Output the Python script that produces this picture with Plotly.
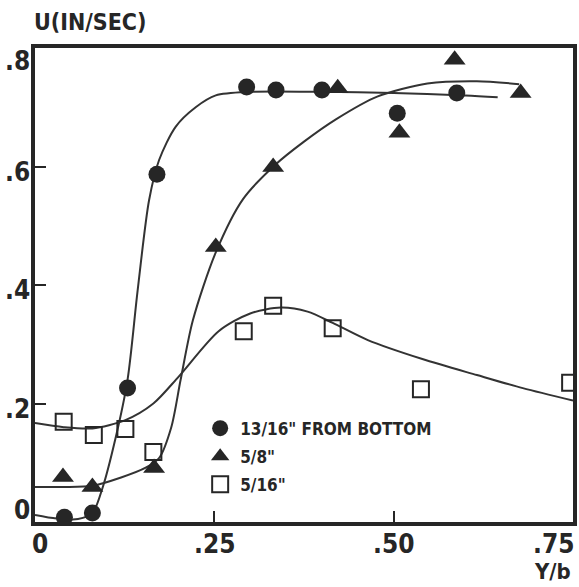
import plotly.graph_objects as go

# Measured velocity profiles, U (in/sec) against Y/b, at three heights
y_b_1316 = [0.041, 0.080, 0.129, 0.170, 0.295, 0.336, 0.400, 0.505, 0.588]
u_1316 = [0.008, 0.015, 0.226, 0.587, 0.734, 0.729, 0.729, 0.690, 0.724]

y_b_58 = [0.039, 0.080, 0.166, 0.252, 0.332, 0.422, 0.508, 0.585, 0.677]
u_58 = [0.076, 0.059, 0.091, 0.464, 0.599, 0.732, 0.657, 0.780, 0.724]

y_b_516 = [0.040, 0.082, 0.126, 0.165, 0.291, 0.332, 0.415, 0.538, 0.746]
u_516 = [0.169, 0.147, 0.157, 0.118, 0.322, 0.365, 0.327, 0.224, 0.235]

# Hand-faired curves through each set of measurements
fit_x_1316 = [0.0, 0.03, 0.06, 0.08, 0.094, 0.112, 0.129, 0.143, 0.159, 0.173,
              0.196, 0.224, 0.252, 0.30, 0.40, 0.50, 0.60, 0.645]
fit_u_1316 = [0.012, 0.006, 0.005, 0.015, 0.057, 0.14, 0.24, 0.39, 0.543, 0.611,
              0.667, 0.70, 0.72, 0.726, 0.726, 0.724, 0.72, 0.717]

fit_x_58 = [0.0, 0.04, 0.08, 0.12, 0.155, 0.173, 0.19, 0.203, 0.22, 0.252, 0.29,
            0.335, 0.375, 0.42, 0.477, 0.547, 0.616, 0.675]
fit_u_58 = [0.059, 0.059, 0.061, 0.075, 0.092, 0.108, 0.16, 0.24, 0.34, 0.455, 0.545,
            0.603, 0.642, 0.68, 0.718, 0.740, 0.744, 0.739]

fit_x_516 = [0.0, 0.04, 0.08, 0.126, 0.165, 0.20, 0.256, 0.30, 0.343, 0.38, 0.415,
             0.464, 0.54, 0.616, 0.68, 0.75]
fit_u_516 = [0.167, 0.160, 0.158, 0.172, 0.200, 0.245, 0.322, 0.352, 0.362, 0.355,
             0.336, 0.307, 0.275, 0.248, 0.226, 0.205]

x_ticks = [0, 0.25, 0.50, 0.75]
x_tick_text = ["0", ".25", ".50", ".75"]
y_ticks = [0, 0.2, 0.4, 0.6, 0.8]
y_tick_text = ["0", ".2", ".4", ".6", ".8"]

INK = "#262626"
FONT = "Liberation Sans Narrow, DejaVu Sans Condensed, Arial Narrow, sans-serif"
TICK_FONT = dict(family=FONT, size=26, color=INK, weight="bold")

fig = go.Figure()

for fx, fu in [(fit_x_1316, fit_u_1316), (fit_x_58, fit_u_58), (fit_x_516, fit_u_516)]:
    fig.add_trace(go.Scatter(
        x=fx, y=fu, mode="lines", line=dict(color="#333333", width=2, shape="spline", smoothing=0.8),
        showlegend=False, hoverinfo="skip",
    ))

fig.add_trace(go.Scatter(
    x=y_b_1316, y=u_1316, mode="markers", name='13/16" FROM BOTTOM', legendgroup="a",
    marker=dict(symbol="circle", size=17, color=INK, line=dict(width=0)), cliponaxis=False,
))
fig.add_trace(go.Scatter(
    x=y_b_58, y=u_58, mode="markers", name='5/8"', legendgroup="b",
    marker=dict(symbol="triangle-up", size=19, color=INK, line=dict(width=0)), cliponaxis=False,
))
fig.add_trace(go.Scatter(
    x=y_b_516, y=u_516, mode="markers", name='5/16"', legendgroup="c",
    marker=dict(symbol="square-open", size=16, color=INK, line=dict(width=2)),
))

axis_common = dict(
    showgrid=False, zeroline=False, showline=True, mirror=True, showticklabels=False,
    linecolor=INK, linewidth=4, ticks="inside", ticklen=11, tickwidth=2, tickcolor=INK,
)

fig.update_xaxes(range=[0, 0.75], tickvals=x_ticks, **axis_common)
fig.update_yaxes(range=[0, 0.8], tickvals=y_ticks, **axis_common)

# Tick labels, nudged off the corners so they sit clear of the frame
for i, (v, t) in enumerate(zip(x_ticks, x_tick_text)):
    anchor, dx = "center", 0
    if i == 0:
        dx = 5
    elif i == len(x_ticks) - 1:
        anchor, dx = "right", 3
    fig.add_annotation(
        text=t, x=v, xref="x", y=0, yref="paper", xanchor=anchor, yanchor="top",
        xshift=dx, yshift=-5, showarrow=False, font=TICK_FONT,
    )
for i, (v, t) in enumerate(zip(y_ticks, y_tick_text)):
    dy = -5
    if i == 0:
        dy = 12
    elif i == len(y_ticks) - 1:
        dy = -13
    fig.add_annotation(
        text=t, x=0, xref="paper", y=v, yref="y", xanchor="right", yanchor="middle",
        xshift=-3, yshift=dy, showarrow=False, font=TICK_FONT,
    )

fig.add_annotation(
    text="U(IN/SEC)", xref="paper", yref="paper", x=-0.005, y=1.055,
    xanchor="left", yanchor="middle", showarrow=False,
    font=dict(family=FONT, size=23, color=INK, weight="bold"),
)
fig.add_annotation(
    text="Y/b", xref="paper", yref="paper", x=1.0, y=-0.104,
    xanchor="right", yanchor="middle", showarrow=False,
    font=dict(family=FONT, size=22, color=INK, weight="bold"),
)

fig.update_layout(
    width=579, height=587,
    margin=dict(l=35, r=2, t=48, b=65),
    paper_bgcolor="white", plot_bgcolor="white",
    legend=dict(
        x=0.307, y=0.235, xanchor="left", yanchor="top",
        bgcolor="rgba(0,0,0,0)", borderwidth=0, tracegroupgap=3,
        font=dict(family=FONT, size=17, color=INK, weight="bold"),
    ),
)

fig.write_html("out.html")
